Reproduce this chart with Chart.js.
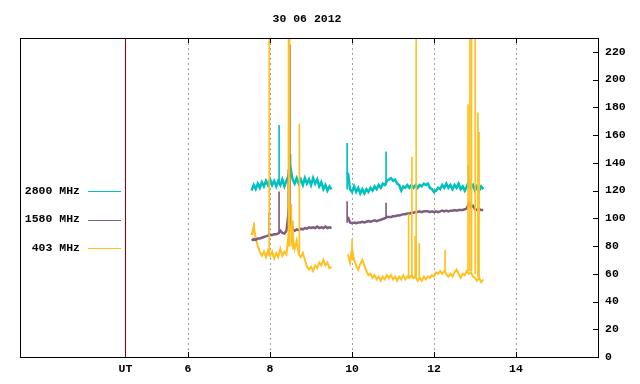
<!DOCTYPE html>
<html>
<head>
<meta charset="utf-8">
<script src="https://cdn.jsdelivr.net/npm/chart.js@4"></script>
<style>
  html, body { margin: 0; padding: 0; background: #fff; }
  canvas { display: block; }
</style>
</head>
<body>
<canvas id="fluxChart" width="640" height="384"></canvas>
<script>
"use strict";

// ====
// Data
// ====
const TITLE = "30 06 2012";
const UT_POS = 4.474;
const X_TICKS = [6, 8, 10, 12, 14];
const Y_TICKS = [0, 20, 40, 60, 80, 100, 120, 140, 160, 180, 200, 220];
const LEGEND_LABELS = ["2800 MHz", "1580 MHz", "403 MHz"];

// samples every 0.05 h, two recording blocks
const SAMPLE_STEP = 0.05;
const START_A = 7.55;
const START_B = 9.9;

const cyanA = [120, 124, 121, 125, 122, 126, 123, 127, 124, 128, 124, 127, 123, 127, 124, 128, 123, 127, 131, 136,
  128, 125, 129, 125, 128, 124, 129, 125, 128, 124, 129, 125, 128, 123, 126, 121, 124, 120, 123, 121];
const purpleA = [84, 85, 84.5, 85.5, 85.5, 86, 86.5, 87, 87.5, 88, 88, 88.5, 88.5, 89, 91, 89.5, 89, 91, 104, 100,
  92, 91, 92, 91.5, 92.5, 92, 93, 92.5, 93.5, 93, 93.5, 93, 94, 93, 93.5, 93, 94, 93, 93.5, 93];
const goldA = [88, 94, 86, 80, 76, 73, 76, 72, 77, 73, 76, 71, 75, 72, 78, 73, 76, 74, 88, 95,
  86, 78, 84, 74, 72, 75, 70, 65, 63, 65, 62, 66, 64, 68, 66, 70, 66, 68, 64, 65];

const cyanB = [133, 121, 119, 123, 119, 122, 118, 121, 118, 121, 119, 122, 120, 123, 121, 124, 122, 125, 124, 127,
  128, 129, 127, 128, 125, 124, 120, 123, 122, 124, 122, 124, 122, 124, 122, 124, 123, 125, 124, 125,
  122, 121, 119, 120, 122, 121, 124, 122, 125, 122, 124, 121, 124, 122, 125, 121, 123, 120, 123, 127,
  122, 124, 120, 123, 120, 123, 121];
const purpleB = [101, 97, 96.5, 97, 96.5, 97, 97, 97.5, 97, 97.5, 98, 97.5, 98, 98.5, 98, 98.5, 99, 99.5, 100, 101,
  101, 101, 101.5, 101.5, 102, 102, 102.5, 103, 103, 103.5, 103.5, 104, 104, 104.5, 104.5, 105, 104.5, 105, 105, 105,
  104.5, 105, 104.5, 105, 104.5, 105, 105.5, 105, 105.5, 105, 105.5, 105.5, 106, 105.5, 106, 106, 106, 106.5, 107, 111,
  108, 109, 106.5, 106, 106.5, 106, 106];
const goldB = [74, 68, 78, 70, 66, 63, 67, 70, 66, 62, 59, 60, 57, 59, 56, 58, 55, 58, 56, 59,
  57, 59, 56, 58, 55, 58, 56, 59, 56, 58, 57, 59, 57, 58, 55, 57, 55, 58, 56, 58,
  57, 59, 58, 61, 60, 62, 60, 62, 60, 58, 60, 58, 61, 63, 60, 57, 60, 59, 62, 60,
  61, 58, 57, 55, 57, 54, 56];

// single-sample bursts: [hour, from, to]
const cyanSpikes = [[8.22, 126, 167], [8.465, 128, 169], [8.50, 130, 146], [9.88, 121, 154], [10.83, 124, 148], [12.84, 122, 138]];
const purpleSpikes = [[7.98, 88, 104], [8.22, 89, 119], [8.445, 100, 135], [8.46, 105, 140], [8.485, 100, 225],
  [9.88, 97, 112], [10.83, 100, 111]];
const goldSpikes = [[7.61, 88, 97], [7.98, 73, 235], [8.45, 80, 235], [8.462, 80, 235], [8.475, 80, 235], [8.52, 80, 110],
  [8.56, 78, 98], [8.715, 75, 168], [10.0, 70, 85],
  [11.38, 57, 103], [11.46, 57, 144], [11.54, 57, 87], [11.565, 58, 235], [11.64, 57, 82], [12.27, 61, 77],
  [12.83, 62, 182], [12.875, 62, 235], [12.915, 62, 235], [13.005, 60, 235], [13.07, 58, 176], [13.1, 57, 162]];

const COLORS = {
  cyan: "#00c0c0",
  purple: "#7e5e80",
  gold: "#ffc020",
  ut: "#8b0000",
  grid: "#a0a0a0",
};

// =======
// Helpers
// =======
const toPoints = (valsA, valsB) => [
  ...valsA.map((y, i) => ({ x: START_A + i * SAMPLE_STEP, y })),
  { x: 9.7, y: null },
  ...valsB.map((y, i) => ({ x: START_B + i * SAMPLE_STEP, y })),
];

const toBars = (spikes) => spikes.map((s) => ({ x: s[0], y: [s[1], s[2]] }));

const lineSet = (data, color, width, order) => ({
  type: "line",
  data,
  borderColor: color,
  borderWidth: width,
  pointRadius: 0,
  tension: 0,
  spanGaps: false,
  order,
});

const spikeSet = (data, color, order) => ({
  type: "bar",
  data,
  backgroundColor: color,
  borderWidth: 0,
  barThickness: 1,
  grouped: false,
  order,
});

// ===========
// Decorations
// ===========
const FONT = "bold 11.5px 'Liberation Mono', 'DejaVu Sans Mono', monospace";

const framePlugin = {
  id: "frame",
  afterDraw(chart) {
    const { ctx, chartArea: a, scales } = chart;
    ctx.save();
    ctx.strokeStyle = "#000";
    ctx.lineWidth = 1;
    ctx.strokeRect(a.left + 0.5, a.top + 0.5, a.right - a.left, a.bottom - a.top);

    // inward ticks
    ctx.beginPath();
    for (const v of X_TICKS) {
      const px = Math.round(scales.x.getPixelForValue(v)) + 0.5;
      ctx.moveTo(px, a.bottom);
      ctx.lineTo(px, a.bottom - 5);
      ctx.moveTo(px, a.top);
      ctx.lineTo(px, a.top + 5);
    }
    for (const v of Y_TICKS) {
      const py = Math.round(scales.y.getPixelForValue(v)) + 0.5;
      ctx.moveTo(a.right, py);
      ctx.lineTo(a.right - 5, py);
    }
    ctx.stroke();

    ctx.font = FONT;
    ctx.fillStyle = "#000";
    ctx.textBaseline = "middle";
    ctx.textAlign = "center";
    ctx.fillText(TITLE, (a.left + a.right) / 2 - 2, 19);

    // key, inside the plot on the left
    const keyColors = [COLORS.cyan, COLORS.purple, COLORS.gold];
    const keyY = [191, 219.5, 248];
    ctx.textAlign = "right";
    LEGEND_LABELS.forEach((label, i) => {
      ctx.fillStyle = "#000";
      ctx.fillText(label, 80, keyY[i]);
      ctx.strokeStyle = keyColors[i];
      ctx.beginPath();
      ctx.moveTo(88, Math.round(keyY[i]) + 0.5);
      ctx.lineTo(121, Math.round(keyY[i]) + 0.5);
      ctx.stroke();
    });
    ctx.restore();
  },
};

// ======
// Chart
// ======
Chart.defaults.font.family = "'Liberation Mono', 'DejaVu Sans Mono', monospace";
Chart.defaults.font.size = 11.5;
Chart.defaults.font.weight = "bold";
Chart.defaults.color = "#000";

new Chart(document.getElementById("fluxChart"), {
  type: "line",
  data: {
    datasets: [
      spikeSet(toBars(goldSpikes), COLORS.gold, 1),
      spikeSet(toBars(purpleSpikes), COLORS.purple, 2),
      spikeSet(toBars(cyanSpikes), COLORS.cyan, 3),
      lineSet(toPoints(purpleA, purpleB), COLORS.purple, 2.5, 4),
      lineSet(toPoints(goldA, goldB), COLORS.gold, 2, 5),
      lineSet(toPoints(cyanA, cyanB), COLORS.cyan, 2.5, 6),
      {
        type: "line",
        data: [{ x: UT_POS, y: 0 }, { x: UT_POS, y: 230 }],
        borderColor: COLORS.ut,
        borderWidth: 1,
        pointRadius: 0,
        order: 10,
      },
    ],
  },
  options: {
    responsive: false,
    animation: false,
    layout: { padding: { top: 38, left: 20, right: 0, bottom: 0 } },
    plugins: {
      legend: { display: false },
      title: { display: false },
      tooltip: { enabled: false },
    },
    scales: {
      x: {
        type: "linear",
        min: 1.9,
        max: 16.0,
        offset: false,
        afterBuildTicks: (scale) => {
          scale.ticks = [UT_POS, ...X_TICKS].map((v) => ({ value: v }));
        },
        afterFit: (scale) => {
          scale.height = 27;
        },
        ticks: {
          padding: 5,
          autoSkip: false,
          maxRotation: 0,
          callback: (v) => (v === UT_POS ? "UT" : v),
        },
        grid: {
          offset: false,
          drawTicks: false,
          color: (ctx) => (ctx.tick && ctx.tick.value === UT_POS ? "rgba(0,0,0,0)" : COLORS.grid),
          lineWidth: 1,
        },
        border: { display: false, dash: [2, 3] },
      },
      y: {
        type: "linear",
        position: "right",
        min: 0,
        max: 230,
        afterBuildTicks: (scale) => {
          scale.ticks = Y_TICKS.map((v) => ({ value: v }));
        },
        afterFit: (scale) => {
          scale.width = 42;
        },
        ticks: { padding: 7 },
        grid: { display: false, drawTicks: false },
        border: { display: false },
      },
    },
  },
  plugins: [framePlugin],
});
</script>
</body>
</html>
